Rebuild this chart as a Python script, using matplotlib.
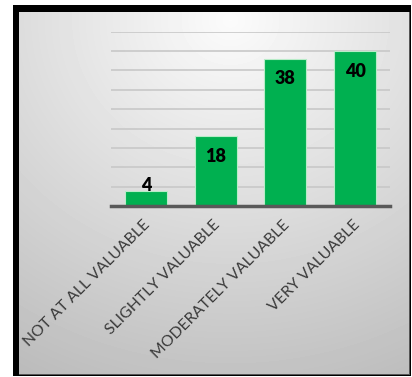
import numpy as np
import matplotlib.pyplot as plt
from matplotlib.patches import Rectangle

categories = ['NOT AT ALL VALUABLE', 'SLIGHTLY VALUABLE',
              'MODERATELY VALUABLE', 'VERY VALUABLE']
values = [4, 18, 38, 40]

W, H = 412, 377
fig = plt.figure(figsize=(W / 100, H / 100), dpi=100)
fig.patch.set_facecolor('white')

# background panel: black frame + soft radial grey gradient
bg = fig.add_axes([0, 0, 1, 1], zorder=0)
bg.set_xlim(0, W)
bg.set_ylim(H, 0)
bg.axis('off')
bg.add_patch(Rectangle((13, 5), 398, 371, facecolor='black', edgecolor='none'))
bg.add_patch(Rectangle((19, 12), 391, 363, facecolor='#555555', edgecolor='none'))
yy, xx = np.mgrid[12:374, 19:409]
dist = np.hypot(xx - 230, (yy - 20) * 1.1) / 420
shade = np.clip(0.985 - 0.24 * dist, 0, 1)
bg.imshow(shade, cmap='gray', vmin=0, vmax=1, extent=(19, 409, 374, 12),
          interpolation='bilinear', zorder=1)

ax = fig.add_axes([111 / W, 171 / H, 279 / W, 174.3 / H], zorder=1)
ax.patch.set_alpha(0)

x = np.arange(len(categories))
bars = ax.bar(x, values, width=0.6, color='#00b050', edgecolor='#b8ecc8',
              linewidth=0.8, zorder=3)

ax.set_xlim(-0.5, len(categories) - 0.5)
ax.set_ylim(0, 45)
ax.set_yticks(np.arange(0, 46, 5))
ax.yaxis.grid(True, color='#c8c8c8', linewidth=1.2, zorder=0)
ax.tick_params(axis='y', left=False, labelleft=False)
ax.tick_params(axis='x', bottom=False, pad=4)
for side in ['top', 'right', 'left']:
    ax.spines[side].set_visible(False)
ax.spines['bottom'].set_color('#595959')
ax.spines['bottom'].set_linewidth(2.5)
ax.spines['bottom'].set_zorder(4)

ax.set_xticks(x + 0.03)
ax.set_xticklabels(categories, rotation=45, ha='right', va='center',
                   rotation_mode='anchor', fontsize=11.3, color='#3a3a3a',
                   family=['Lato', 'DejaVu Sans'])
for lbl in ax.get_xticklabels():
    lbl.set_y(-0.035)

for b, v in zip(bars, values):
    off = 5 if v < 10 else -20
    ax.annotate(str(v), (b.get_x() + b.get_width() / 2, v),
                xytext=(0, off), textcoords='offset pixels',
                ha='center', va='center', fontsize=13, fontweight='heavy',
                family=['Lato', 'DejaVu Sans'], color='black', zorder=5)

fig.savefig('out.png', dpi=100)
